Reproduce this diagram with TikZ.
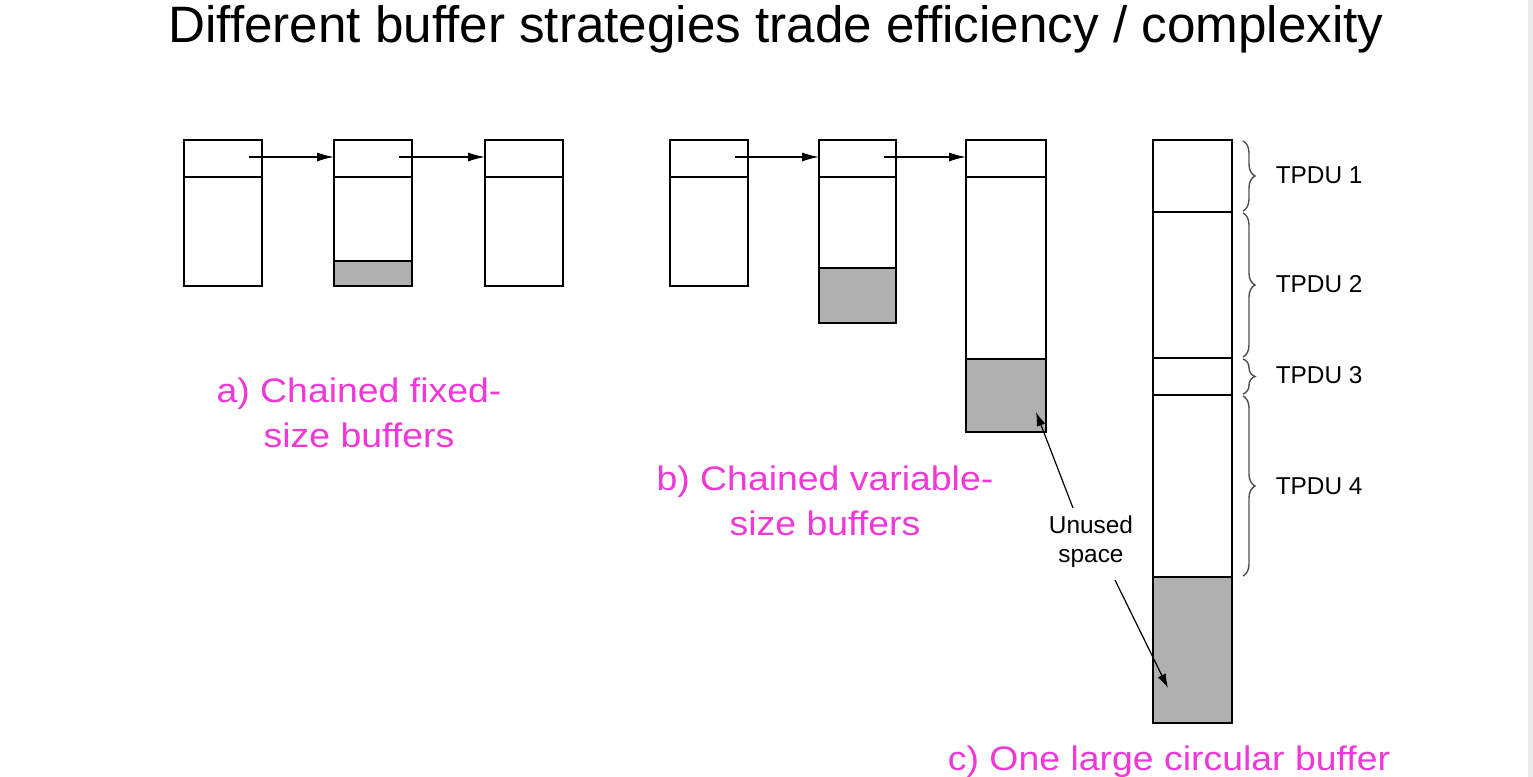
\documentclass[tikz,border=0pt]{standalone}
\usepackage{fontspec}
\setmainfont{Liberation Sans}
\newfontfamily\magfont[FakeStretch=1.1]{Liberation Sans}
\usetikzlibrary{arrows.meta,decorations.pathreplacing}
\definecolor{mag}{RGB}{240,56,216}
\definecolor{fillgray}{RGB}{176,176,176}
\definecolor{bracegray}{RGB}{80,80,80}
\definecolor{edgegray}{RGB}{235,235,235}
\begin{document}
\begin{tikzpicture}[x=0.5pt,y=-0.5pt,line width=0.75pt,
  hdr/.style={draw=black,fill=white,inner sep=0,outer sep=0,minimum width=39pt,minimum height=18.5pt,anchor=north west},
  used/.style={draw=black,fill=fillgray},
  link/.style={-{Latex[length=8.5pt,width=4.5pt]},line width=0.6pt},
  note/.style={-{Latex[length=7pt,width=4.5pt]},line width=0.6pt},
  tpdu/.style={decorate,decoration={brace,amplitude=6pt},draw=bracegray,line width=0.7pt},
  lab/.style={font=\fontsize{12.2}{14}\selectfont,anchor=base west,inner sep=0},
  capt/.style={font=\magfont\fontsize{17}{22.5}\selectfont,text=mag,align=center,inner sep=0,anchor=north}]
\useasboundingbox (0,0) rectangle (1533,777);
\fill[white] (0,0) rectangle (1533,777);
\fill[edgegray] (1528,0) rectangle (1533,777);

% title
\node[anchor=base,inner sep=0,font=\fontsize{25.6}{30}\selectfont] (title) at (776,42) {Different buffer strategies trade efficiency / complexity};

% ---- a) chained fixed-size buffers
\draw (184,177) rectangle (262,286);
\node[hdr] (a1) at (184,140) {};
\draw (334,177) rectangle (412,286);
\draw[used] (334,261) rectangle (412,286);
\node[hdr] (a2) at (334,140) {};
\draw (485,177) rectangle (563,286);
\node[hdr] (a3) at (485,140) {};
\coordinate (a1s) at (249,157);
\coordinate (a2s) at (399,157);
\draw[link] (a1s) -- (a2.west |- a1s);
\draw[link] (a2s) -- (a3.west |- a2s);
\node[capt] (capa) at (359,377) {a) Chained fixed-\\size buffers};

% ---- b) chained variable-size buffers
\draw (670,177) rectangle (748,286);
\node[hdr] (b1) at (670,140) {};
\draw (819,177) rectangle (896,323);
\draw[used] (819,268) rectangle (896,323);
\node[hdr,minimum width=38.5pt] (b2) at (819,140) {};
\draw (966,177) rectangle (1046,432);
\draw[used,line width=0.95pt] (966,359) rectangle (1046,432);
\node[hdr,minimum width=40pt] (b3) at (966,140) {};
\coordinate (b1s) at (735,157);
\coordinate (b2s) at (884,157);
\draw[link] (b1s) -- (b2.west |- b1s);
\draw[link] (b2s) -- (b3.west |- b2s);
\node[capt] (capb) at (825,465) {b) Chained variable-\\size buffers};

% ---- c) one large circular buffer
\draw (1153,140) rectangle (1232,577);
\draw (1153,212) -- (1232,212);
\draw (1153,358) -- (1232,358);
\draw[line width=1pt] (1153,395) -- (1232,395);
\draw[used] (1153,577) rectangle (1232,723);
\draw[tpdu] (1243,141) -- (1243,211);
\draw[tpdu] (1243,213) -- (1243,357);
\draw[tpdu] (1243,359) -- (1243,394);
\draw[tpdu] (1243,396) -- (1243,576);
\node[lab] (t1) at (1275,183) {TPDU 1};
\node[lab] (t2) at (1275,292) {TPDU 2};
\node[lab] (t3) at (1275,383) {TPDU 3};
\node[lab] (t4) at (1275,494) {TPDU 4};
\node[capt,anchor=base] (capc) at (1169,770) {c) One large circular buffer};

% ---- unused space
\node[font=\fontsize{12.2}{14.5}\selectfont,align=center,inner sep=0,anchor=north] (unused) at (1091,515) {Unused\\space};
\coordinate (u1s) at (1073,508);
\coordinate (u1t) at (1036,412);
\coordinate (u2s) at (1115,580);
\coordinate (u2t) at (1168,688);
\draw[note] (u1s) -- (u1t);
\draw[note] (u2s) -- (u2t);
\end{tikzpicture}
\end{document}
